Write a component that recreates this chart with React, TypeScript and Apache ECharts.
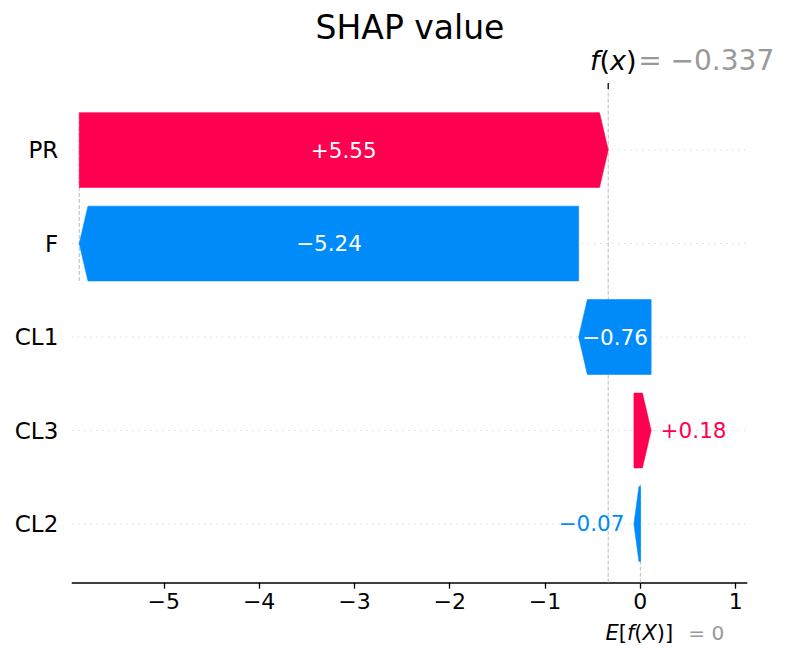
import React, { useEffect, useRef } from 'react';
import * as echarts from 'echarts';

// rows listed bottom → top
const features = ['CL2', 'CL3', 'CL1', 'F', 'PR'];
const shapValues = [-0.07, 0.18, -0.76, -5.24, 5.55];
const valueLabels = ['\u22120.07', '+0.18', '\u22120.76', '\u22125.24', '+5.55'];
const baseValue = 0;
const fxValue = -0.337;
const xTicks = [-5, -4, -3, -2, -1, 0, 1];
const xMin = -5.96;
const xMax = 1.116;
const yMin = -0.628;
const yMax = 4.653;

const RED = '#ff0051';
const BLUE = '#008bfb';
const FONT = 'DejaVu Sans';

const fmtNum = (v: number) => String(v).replace('-', '\u2212');

function buildBars() {
  // same logic as shap waterfall: walk from f(x) down from the top row
  const n = features.length;
  const bars: any[] = [];
  const connectors: any[] = [];
  let loc = fxValue;
  for (let k = 0; k < n; k++) {
    const row = n - 1 - k;
    const sval = shapValues[row];
    const end = loc;
    loc -= sval;
    const start = loc;
    bars.push([start, end, row, sval, valueLabels[row]]);
    if (k + 4 < n) {
      connectors.push([loc, row - 1.4, row + 0.4]);
    }
  }
  return { bars, connectors };
}

function measure(text: string, size: number) {
  const c = document.createElement('canvas').getContext('2d');
  if (!c) return text.length * size * 0.62;
  c.font = `${size}px "${FONT}"`;
  return c.measureText(text).width;
}

const mathRich = (size: number) => ({
  i: { fontSize: size, fontStyle: 'italic', fontFamily: FONT, fill: '#000', color: '#000' },
  n: { fontSize: size, fontFamily: FONT, fill: '#000', color: '#000' },
});

export default function App() {
  const ref = useRef<HTMLDivElement>(null);
  useEffect(() => {
    if (!ref.current) return;
    const chart = echarts.init(ref.current, undefined, { renderer: 'svg' });
    const { bars, connectors } = buildBars();
    const vlines = [
      ...connectors,
      [fxValue, yMin, yMax, 1],
      [baseValue, yMin, yMin + (yMax - yMin) / features.length, 1],
    ];
    const rowsData = features.map((f, i) => [0, i]);
    const annotations = [
      [fxValue, 1],
      [baseValue, 0],
    ];
    const VAL_FS = 21.5;

    chart.setOption({
      animation: false,
      graphic: [
        {
          type: 'text',
          x: 410,
          y: 27,
          style: {
            text: 'SHAP value',
            fontSize: 33,
            fontFamily: FONT,
            fill: '#000',
            align: 'center',
            verticalAlign: 'middle',
          },
        },
      ],
      grid: { left: 72.3, right: 47.3, top: 89, bottom: 76.3 },
      xAxis: {
        type: 'value',
        min: xMin,
        max: xMax,
        axisLine: { show: true, onZero: false, lineStyle: { color: '#000', width: 1.6 } },
        axisTick: {
          show: true,
          customValues: xTicks,
          length: 6,
          lineStyle: { color: '#000', width: 1.3 },
        },
        axisLabel: {
          customValues: xTicks,
          formatter: (v: number) => fmtNum(v),
          fontSize: 22,
          fontFamily: FONT,
          color: '#000',
          margin: 8,
        },
        splitLine: { show: false },
      },
      yAxis: { type: 'value', min: yMin, max: yMax, show: false },
      series: [
        {
          type: 'custom',
          z: 1,
          clip: false,
          data: rowsData,
          renderItem: (params: any, api: any) => {
            const cs = params.coordSys;
            const i = api.value(1);
            const y = api.coord([0, i])[1];
            return {
              type: 'group',
              children: [
                {
                  type: 'line',
                  shape: { x1: cs.x, y1: y, x2: cs.x + cs.width, y2: y },
                  style: { stroke: '#cccccc', lineWidth: 1, lineDash: [1, 5] },
                },
                {
                  type: 'text',
                  x: cs.x - 14,
                  y: y,
                  style: {
                    text: features[i],
                    fontSize: 23,
                    fontFamily: FONT,
                    fill: '#000',
                    align: 'right',
                    verticalAlign: 'middle',
                  },
                },
              ],
            };
          },
        },
        {
          type: 'custom',
          z: 1,
          clip: false,
          data: vlines,
          renderItem: (params: any, api: any) => {
            const x = api.coord([api.value(0), 0])[0];
            const y0 = api.coord([0, api.value(1)])[1];
            const y1 = api.coord([0, api.value(2)])[1];
            return {
              type: 'line',
              shape: { x1: x, y1: y0, x2: x, y2: y1 },
              style: { stroke: '#bbbbbb', lineWidth: 1, lineDash: [4, 2] },
            };
          },
        },
        {
          type: 'custom',
          z: 2,
          clip: false,
          data: bars,
          renderItem: (params: any, api: any) => {
            const s = api.value(0);
            const e = api.value(1);
            const row = api.value(2);
            const sval = api.value(3);
            const label = bars[params.dataIndex][4];
            const xs = api.coord([s, row])[0];
            const xe = api.coord([e, row])[0];
            const yc = api.coord([s, row])[1];
            const yt = api.coord([s, row + 0.4])[1];
            const yb = api.coord([s, row - 0.4])[1];
            const w = Math.abs(xe - xs);
            const head = Math.min(8.7, w * 0.75);
            const dir = xe >= xs ? 1 : -1;
            const color = sval >= 0 ? RED : BLUE;
            const points = [
              [xs, yt],
              [xe - dir * head, yt],
              [xe, yc],
              [xe - dir * head, yb],
              [xs, yb],
            ];
            const tw = measure(label, VAL_FS);
            const inside = tw < w;
            let text: any;
            if (inside) {
              text = {
                type: 'text',
                x: (xs + xe) / 2,
                y: yc,
                style: {
                  text: label,
                  fontSize: VAL_FS,
                  fontFamily: FONT,
                  fill: '#fff',
                  align: 'center',
                  verticalAlign: 'middle',
                },
              };
            } else {
              text = {
                type: 'text',
                x: xe + dir * 9.5,
                y: yc,
                style: {
                  text: label,
                  fontSize: VAL_FS,
                  fontFamily: FONT,
                  fill: color,
                  align: dir > 0 ? 'left' : 'right',
                  verticalAlign: 'middle',
                },
              };
            }
            return {
              type: 'group',
              children: [
                { type: 'polygon', shape: { points }, style: { fill: color, stroke: color, lineWidth: 0.6 } },
                text,
              ],
            };
          },
        },
        {
          type: 'custom',
          z: 3,
          clip: false,
          data: annotations,
          renderItem: (params: any, api: any) => {
            const cs = params.coordSys;
            const v = api.value(0);
            const top = api.value(1) === 1;
            const x = api.coord([v, 0])[0];
            if (top) {
              const ty = cs.y - 29;
              return {
                type: 'group',
                children: [
                  {
                    type: 'line',
                    shape: { x1: x, y1: cs.y - 6, x2: x, y2: cs.y },
                    style: { stroke: '#000', lineWidth: 1.3 },
                  },
                  {
                    type: 'text',
                    x: x + 5,
                    y: ty,
                    style: {
                      text: '{i|f}{n|(}{i|x}{n|)}',
                      rich: mathRich(27),
                      fontSize: 27,
                      fontFamily: FONT,
                      fill: '#000',
                      align: 'center',
                      verticalAlign: 'middle',
                    },
                  },
                  {
                    type: 'text',
                    x: x + 30,
                    y: ty,
                    style: {
                      text: '= ' + fmtNum(v),
                      fontSize: 28,
                      fontFamily: FONT,
                      fill: '#999999',
                      align: 'left',
                      verticalAlign: 'middle',
                    },
                  },
                ],
              };
            }
            const by = cs.y + cs.height + 50;
            return {
              type: 'group',
              children: [
                {
                  type: 'text',
                  x: x - 1,
                  y: by,
                  style: {
                    text: '{i|E}{n|[}{i|f}{n|(}{i|X}{n|)]}',
                    rich: mathRich(21),
                    fontSize: 21,
                    fontFamily: FONT,
                    fill: '#000',
                    align: 'center',
                    verticalAlign: 'middle',
                  },
                },
                {
                  type: 'text',
                  x: x + 48,
                  y: by,
                  style: {
                    text: '= ' + fmtNum(v),
                    fontSize: 20,
                    fontFamily: FONT,
                    fill: '#999999',
                    align: 'left',
                    verticalAlign: 'middle',
                  },
                },
              ],
            };
          },
        },
      ],
    });
    return () => chart.dispose();
  }, []);
  return (
    <div
      ref={ref}
      style={{ position: 'absolute', left: 0, top: 0, width: 794, height: 659, background: '#fff' }}
    />
  );
}
